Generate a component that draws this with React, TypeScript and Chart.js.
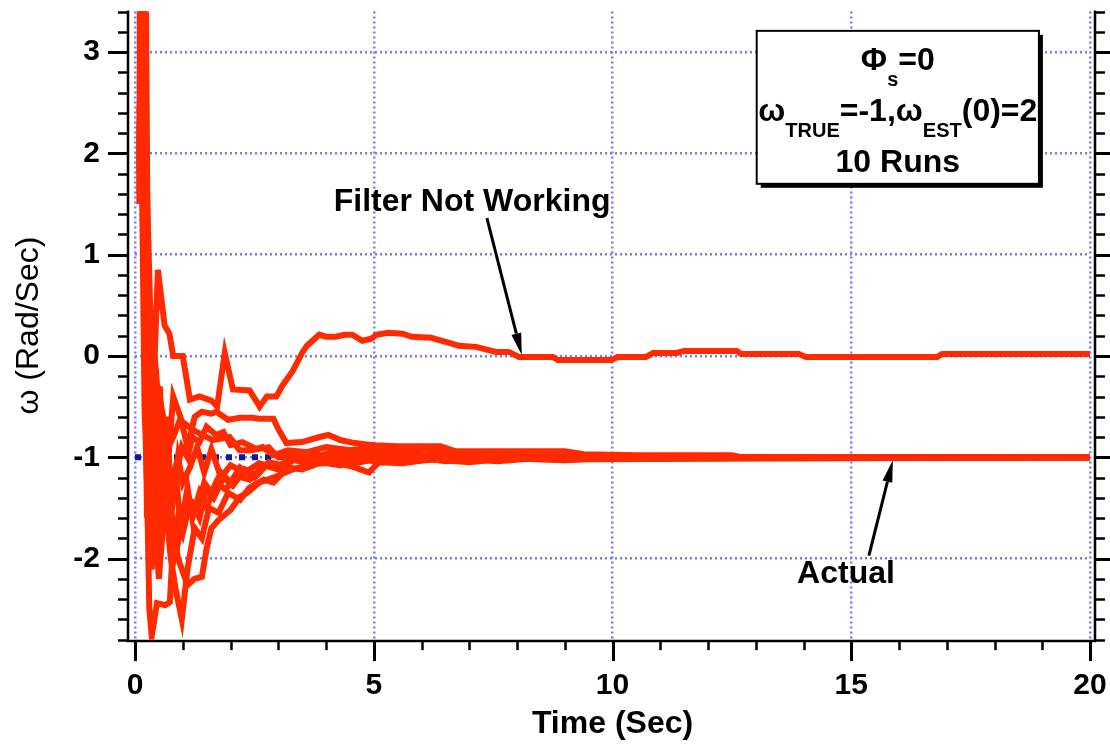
import React, { useEffect, useRef } from "react";
import { Chart, registerables } from "chart.js";

Chart.register(...registerables);

type Pt = [number, number];

// Axis ranges and labelled ticks
const T_MIN = 0;
const T_MAX = 20;
const W_MIN = -2.8;
const W_MAX = 3.4;
const X_TICKS = [0, 5, 10, 15, 20];
const Y_TICKS = [-2, -1, 0, 1, 2, 3];
const X_MINOR_STEP = 1;
const Y_MINOR_STEP = 0.2;

// True angular rate
const omegaTrue: Pt[] = [[0, -1], [20, -1]];

// Estimated angular rate, one array per run: [time (s), omega (rad/s)]
const run01: Pt[] = [
  [0.09, 1.5], [0.14, 3.6], [0.31, 0.6], [0.38, -0.4], [0.48, 0.85], [0.62, 0.3], [0.72, 0.22], [0.8, 0.0], [1.0, 0.0],
  [1.15, -0.43], [1.35, -0.4], [1.6, -0.44], [1.72, -0.5], [1.88, 0.03], [2.05, -0.33], [2.4, -0.34],
  [2.61, -0.5], [2.76, -0.4], [2.96, -0.4], [3.09, -0.29], [3.3, -0.15], [3.5, 0.03], [3.6, 0.1],
  [3.86, 0.21], [4.0, 0.19], [4.2, 0.19], [4.4, 0.21], [4.55, 0.21], [4.76, 0.15], [4.95, 0.17],
  [5.05, 0.21], [5.3, 0.23], [5.6, 0.22], [5.8, 0.19], [6.2, 0.18], [6.58, 0.13], [6.79, 0.1],
  [7.14, 0.09], [7.56, 0.04], [7.83, 0.04], [8.04, -0.01], [8.75, -0.01], [8.85, -0.04], [9.98, -0.04],
  [10.1, -0.01], [10.7, -0.01], [10.85, 0.03], [11.35, 0.03], [11.5, 0.05], [12.6, 0.05], [12.7, 0.02],
  [13.9, 0.02], [14.05, -0.01], [16.8, -0.01], [16.9, 0.02], [20, 0.02],
];
const run02: Pt[] = [
  [0.09, 1.9], [0.13, 3.6], [0.22, -0.5], [0.3, -2.5], [0.35, -2.77], [0.46, -2.44], [0.55, -2.45],
  [0.63, -2.46], [0.73, -2.43], [0.78, -2.0], [0.9, -1.6], [1.0, -1.75], [1.15, -1.45], [1.3, -1.5],
  [1.45, -1.25], [1.6, -1.35], [1.8, -1.15], [2.0, -1.25], [2.2, -1.1], [2.5, -1.2], [2.8, -1.05],
  [3.1, -1.1], [3.4, -1.0], [3.8, -1.05], [4.2, -0.98], [4.6, -1.02], [5.0, -0.97], [5.6, -1.03],
  [6.3, -1.0], [7.2, -1.02], [8.2, -0.99], [9.5, -1.01], [11, -1.0], [20, -1.0],
];
const run03: Pt[] = [
  [0.09, 1.6], [0.11, 3.6], [0.2, 0.5], [0.28, -1.5], [0.4, -0.3], [0.5, -0.9], [0.6, -1.3], [0.75, -2.0],
  [0.85, -2.3], [0.98, -2.6], [1.1, -2.1], [1.25, -1.7], [1.4, -1.8], [1.55, -1.5], [1.75, -1.55],
  [1.95, -1.35], [2.2, -1.42], [2.4, -1.3], [2.7, -1.22], [2.9, -1.25], [3.2, -1.1], [3.5, -1.12],
  [3.9, -1.05], [4.3, -1.08], [4.7, -1.02], [5.2, -1.05], [5.8, -0.99], [6.5, -1.04], [7.4, -1.0],
  [8.6, -1.02], [10, -1.0], [20, -1.0],
];
const run04: Pt[] = [
  [0.09, 2.0], [0.17, 3.6], [0.24, 0.2], [0.35, -2.11], [0.45, -1.2], [0.55, -0.5], [0.65, -0.75],
  [0.75, -1.5], [0.9, -2.0], [1.1, -2.26], [1.25, -2.2], [1.4, -2.18], [1.5, -1.9], [1.6, -1.7],
  [1.75, -1.62], [2.0, -1.52], [2.2, -1.39], [2.35, -1.35], [2.6, -1.25], [2.9, -1.2], [3.3, -1.12],
  [3.7, -1.07], [4.2, -1.05], [4.6, -1.1], [4.9, -1.15], [5.1, -1.05], [5.6, -1.06], [6.2, -1.02],
  [7.0, -1.05], [7.8, -1.01], [9, -1.03], [10.5, -1.0], [20, -1.0],
];
const run05: Pt[] = [
  [0.09, 2.2], [0.2, 3.6], [0.27, -1.0], [0.4, -2.0], [0.5, -1.4], [0.6, -0.7], [0.7, -1.0], [0.8, -0.4],
  [0.95, -0.6], [1.1, -0.9], [1.25, -0.6], [1.4, -0.55], [1.6, -0.57], [1.7, -0.55], [1.95, -0.63],
  [2.2, -0.61], [2.45, -0.61], [2.6, -0.62], [2.9, -0.62], [3.0, -0.72], [3.17, -0.86], [3.5, -0.85],
  [3.86, -0.8], [4.05, -0.78], [4.3, -0.83], [4.6, -0.86], [5.0, -0.88], [5.5, -0.89], [6.4, -0.89],
  [6.7, -0.94], [9.0, -0.94], [9.4, -0.97], [10.5, -0.98], [12.5, -0.98], [12.7, -1.0], [20, -1.0],
];
const run06: Pt[] = [
  [0.09, 1.8], [0.15, 3.6], [0.25, -1.6], [0.4, -0.7], [0.55, -1.5], [0.7, -0.9], [0.8, -0.8],
  [0.94, -0.63], [1.21, -0.73], [1.63, -0.83], [1.98, -0.8], [2.19, -0.93], [2.45, -0.93], [2.67, -0.9],
  [2.9, -0.98], [3.2, -0.93], [3.6, -0.95], [4.0, -0.9], [4.5, -0.93], [5.0, -0.9], [5.5, -0.95],
  [6.0, -0.92], [7.0, -0.96], [8.0, -0.95], [9.2, -0.98], [10.3, -0.99], [11, -1.0], [20, -1.0],
];
const run07: Pt[] = [
  [0.09, 2.4], [0.23, 3.6], [0.3, -1.8], [0.38, -1.0], [0.48, -1.9], [0.6, -1.2], [0.7, -1.45],
  [0.82, -2.0], [0.92, -1.8], [1.05, -1.5], [1.2, -1.45], [1.35, -1.6], [1.5, -1.3], [1.65, -1.4],
  [1.85, -1.2], [2.05, -1.28], [2.3, -1.12], [2.55, -1.18], [2.8, -1.05], [3.1, -1.08], [3.5, -0.95],
  [3.9, -0.98], [4.3, -0.92], [4.7, -0.96], [5.3, -0.94], [6.0, -0.98], [7.0, -0.97], [8.0, -1.0],
  [9.0, -0.97], [10, -1.0], [20, -1.0],
];
const run08: Pt[] = [
  [0.09, 1.7], [0.1, 3.6], [0.2, 1.0], [0.3, -0.2], [0.4, -1.5], [0.5, -2.2], [0.6, -1.6], [0.7, -1.1],
  [0.8, -1.4], [0.9, -1.0], [1.0, -1.25], [1.15, -1.1], [1.3, -0.9], [1.45, -1.15], [1.6, -0.92],
  [1.8, -1.2], [2.0, -1.08], [2.3, -1.15], [2.6, -1.06], [2.9, -1.1], [3.3, -1.02], [3.7, -1.08],
  [4.1, -1.0], [4.6, -1.06], [5.2, -1.0], [5.8, -1.04], [6.6, -1.01], [7.6, -1.04], [8.6, -1.0],
  [9.6, -1.02], [20, -1.0],
];
const run09: Pt[] = [
  [0.09, 2.1], [0.19, 3.6], [0.26, -0.8], [0.35, 0.3], [0.45, -0.2], [0.55, -1.0], [0.65, -0.6],
  [0.75, -1.3], [0.85, -1.1], [0.95, -1.7], [1.1, -1.3], [1.2, -1.6], [1.35, -1.35], [1.5, -1.5],
  [1.7, -1.25], [1.9, -1.32], [2.1, -1.18], [2.4, -1.22], [2.7, -1.08], [3.0, -1.12], [3.4, -1.0],
  [3.8, -1.04], [4.4, -0.97], [5.0, -1.03], [5.6, -0.98], [6.4, -1.03], [7.5, -0.99], [8.8, -1.02],
  [10, -1.0], [20, -1.0],
];
const run10: Pt[] = [
  [0.09, 3.5], [0.1, 3.6], [0.2, -0.5], [0.3, -1.9], [0.42, -1.0], [0.52, -0.3], [0.62, -1.2],
  [0.72, -1.7], [0.85, -1.2], [0.98, -0.9], [1.1, -1.0], [1.2, -0.8], [1.35, -0.85], [1.5, -0.7],
  [1.7, -0.78], [1.85, -0.75], [2.0, -0.88], [2.25, -0.85], [2.55, -0.92], [2.8, -0.9], [3.0, -1.0],
  [3.4, -0.97], [3.8, -1.02], [4.3, -0.95], [4.8, -1.0], [5.4, -0.97], [6.2, -1.01], [7.2, -0.98],
  [8.4, -1.0], [20, -1.0],
];

const RUNS = [run01, run02, run03, run04, run05, run06, run07, run08, run09, run10];

// Callouts, placed in data coordinates
const FILTER_LABEL = { text: "Filter Not Working", t: 7.06, w: 1.43 };
const FILTER_ARROW = { from: [7.37, 1.36] as Pt, to: [8.1, 0.01] as Pt };
const ACTUAL_LABEL = { text: "Actual", t: 14.89, w: -2.24 };
const ACTUAL_ARROW = { from: [15.37, -1.97] as Pt, to: [15.87, -1.03] as Pt };
const INFO_BOX = { t0: 13.02, t1: 18.93, w0: 3.21, w1: 1.7 };

const FONT = "'Liberation Sans', Arial, Helvetica, sans-serif";
const RED = "#ff2a00";
const NAVY = "#0d1c9c";
const GRID = "#7878ff";

type Seg = { text: string; sub?: boolean };

function drawRich(ctx: CanvasRenderingContext2D, cx: number, baseline: number, segs: Seg[]) {
  const main = `bold 32px ${FONT}`;
  const small = `bold 20px ${FONT}`;
  let total = 0;
  for (const s of segs) {
    ctx.font = s.sub ? small : main;
    total += ctx.measureText(s.text).width;
  }
  let x = cx - total / 2;
  ctx.textAlign = "left";
  ctx.textBaseline = "alphabetic";
  for (const s of segs) {
    ctx.font = s.sub ? small : main;
    ctx.fillText(s.text, x, s.sub ? baseline + 16 : baseline);
    x += ctx.measureText(s.text).width;
  }
}

function drawArrow(ctx: CanvasRenderingContext2D, x0: number, y0: number, x1: number, y1: number) {
  const ang = Math.atan2(y1 - y0, x1 - x0);
  const headLen = 22;
  const headHalf = 5;
  const bx = x1 - headLen * Math.cos(ang);
  const by = y1 - headLen * Math.sin(ang);
  ctx.strokeStyle = "#000";
  ctx.fillStyle = "#000";
  ctx.lineWidth = 3;
  ctx.beginPath();
  ctx.moveTo(x0, y0);
  ctx.lineTo(bx, by);
  ctx.stroke();
  ctx.beginPath();
  ctx.moveTo(x1, y1);
  ctx.lineTo(bx + headHalf * Math.sin(ang), by - headHalf * Math.cos(ang));
  ctx.lineTo(bx - headHalf * Math.sin(ang), by + headHalf * Math.cos(ang));
  ctx.closePath();
  ctx.fill();
}

const overlay = {
  id: "overlay",
  afterDraw(chart: any) {
    const { ctx, chartArea: ca, scales } = chart;
    const px = (t: number) => scales.x.getPixelForValue(t);
    const py = (w: number) => scales.y.getPixelForValue(w);
    ctx.save();

    // axis frame: left axis set off from the plot, right axis with outward ticks
    const leftX = ca.left - 7;
    const rightX = ca.right + 5;
    const baseY = ca.bottom + 1.5;
    ctx.strokeStyle = "#000";
    ctx.lineWidth = 2.5;
    ctx.beginPath();
    ctx.moveTo(leftX, ca.top - 1);
    ctx.lineTo(leftX, baseY);
    ctx.lineTo(rightX, baseY);
    ctx.lineTo(rightX, ca.top - 1);
    ctx.stroke();

    const nY = Math.round((W_MAX - W_MIN) / Y_MINOR_STEP);
    for (let i = 0; i <= nY; i++) {
      const v = W_MIN + i * Y_MINOR_STEP;
      const major = Y_TICKS.some((m) => Math.abs(m - v) < 1e-6);
      const y = Math.round(py(v)) + 0.5;
      ctx.lineWidth = major ? 3 : 2.5;
      ctx.beginPath();
      ctx.moveTo(leftX - (major ? 20 : 10), y);
      ctx.lineTo(leftX, y);
      ctx.moveTo(rightX, y);
      ctx.lineTo(rightX + (major ? 15 : 10), y);
      ctx.stroke();
    }
    const nX = Math.round((T_MAX - T_MIN) / X_MINOR_STEP);
    for (let i = 0; i <= nX; i++) {
      const t = T_MIN + i * X_MINOR_STEP;
      const major = X_TICKS.includes(t);
      const x = Math.round(px(t)) + 0.5;
      ctx.lineWidth = major ? 3 : 2.5;
      ctx.beginPath();
      ctx.moveTo(x, baseY);
      ctx.lineTo(x, baseY + (major ? 20 : 9));
      ctx.stroke();
    }

    // callout labels and arrows
    ctx.fillStyle = "#000";
    ctx.font = `bold 32px ${FONT}`;
    ctx.textAlign = "center";
    ctx.textBaseline = "alphabetic";
    ctx.fillText(FILTER_LABEL.text, px(FILTER_LABEL.t), py(FILTER_LABEL.w));
    ctx.fillText(ACTUAL_LABEL.text, px(ACTUAL_LABEL.t), py(ACTUAL_LABEL.w));
    drawArrow(ctx, px(FILTER_ARROW.from[0]), py(FILTER_ARROW.from[1]), px(FILTER_ARROW.to[0]), py(FILTER_ARROW.to[1]));
    drawArrow(ctx, px(ACTUAL_ARROW.from[0]), py(ACTUAL_ARROW.from[1]), px(ACTUAL_ARROW.to[0]), py(ACTUAL_ARROW.to[1]));

    // parameter box with drop shadow
    const bx0 = px(INFO_BOX.t0);
    const bx1 = px(INFO_BOX.t1);
    const by0 = py(INFO_BOX.w0);
    const by1 = py(INFO_BOX.w1);
    ctx.fillStyle = "#000";
    ctx.fillRect(bx0 + 4, by0 + 4, bx1 - bx0, by1 - by0);
    ctx.fillStyle = "#fff";
    ctx.fillRect(bx0, by0, bx1 - bx0, by1 - by0);
    ctx.strokeStyle = "#000";
    ctx.lineWidth = 2;
    ctx.strokeRect(bx0, by0, bx1 - bx0, by1 - by0);
    ctx.fillStyle = "#000";
    const cx = (bx0 + bx1) / 2;
    drawRich(ctx, cx, by0 + 39, [{ text: "Φ" }, { text: "s", sub: true }, { text: "=0" }]);
    drawRich(ctx, cx, by0 + 90, [
      { text: "ω" },
      { text: "TRUE", sub: true },
      { text: "=-1,ω" },
      { text: "EST", sub: true },
      { text: "(0)=2" },
    ]);
    drawRich(ctx, cx, by0 + 141, [{ text: "10 Runs" }]);

    ctx.restore();
  },
};

// Fixed scale boxes so the plot area sits where intended
const zeroPadding = (s: any) => {
  s.paddingTop = 0;
  s.paddingBottom = 0;
  s.paddingLeft = 0;
  s.paddingRight = 0;
};

export default function App() {
  const canvasRef = useRef<HTMLCanvasElement | null>(null);

  useEffect(() => {
    const canvas = canvasRef.current;
    if (!canvas) return;

    const runSets = RUNS.map((run, i) => ({
      label: `Run ${i + 1}`,
      data: run.map(([t, w]) => ({ x: t, y: w })),
      borderColor: RED,
      borderWidth: 6,
      pointRadius: 0,
      tension: 0,
      fill: false,
      clip: 0,
    }));

    const chart = new Chart(canvas, {
      type: "line",
      data: {
        datasets: [
          ...runSets,
          {
            label: "True",
            data: omegaTrue.map(([t, w]) => ({ x: t, y: w })),
            borderColor: NAVY,
            borderWidth: 6,
            borderDash: [6, 7],
            pointRadius: 0,
            fill: false,
            clip: 0,
          },
        ],
      },
      options: {
        responsive: false,
        animation: false,
        devicePixelRatio: 1,
        layout: { padding: { top: 11.6, right: 20, bottom: 0, left: 0 } },
        plugins: { legend: { display: false }, tooltip: { enabled: false } },
        scales: {
          x: {
            type: "linear",
            min: T_MIN,
            max: T_MAX,
            afterBuildTicks: (s: any) => {
              s.ticks = X_TICKS.map((v) => ({ value: v }));
            },
            afterFit: (s: any) => {
              s.height = 107.4;
              zeroPadding(s);
            },
            ticks: {
              callback: (v: any) => String(v),
              font: { family: FONT, size: 30, weight: "bold" },
              color: "#000",
              padding: 28,
              maxRotation: 0,
              autoSkip: false,
            },
            grid: { color: GRID, lineWidth: 2.5, drawTicks: false },
            border: { display: false, dash: [2, 3] },
            title: {
              display: true,
              text: "Time (Sec)",
              font: { family: FONT, size: 32, weight: "bold" },
              color: "#000",
              padding: { top: 0, bottom: 4 },
            },
          },
          y: {
            type: "linear",
            min: W_MIN,
            max: W_MAX,
            afterBuildTicks: (s: any) => {
              s.ticks = Y_TICKS.map((v) => ({ value: v }));
            },
            afterFit: (s: any) => {
              s.width = 135;
              zeroPadding(s);
            },
            ticks: {
              callback: (v: any) => String(v),
              font: { family: FONT, size: 30, weight: "bold" },
              color: "#000",
              padding: 35,
              autoSkip: false,
            },
            grid: { color: GRID, lineWidth: 2.5, drawTicks: false },
            border: { display: false, dash: [2, 3] },
            title: {
              display: true,
              text: "ω (Rad/Sec)",
              font: { family: FONT, size: 32, weight: "normal" },
              color: "#000",
              padding: { top: 10, bottom: 0 },
            },
          },
        },
      },
      plugins: [overlay],
    } as any);

    return () => chart.destroy();
  }, []);

  return (
    <div style={{ position: "fixed", left: 0, top: 0, width: 1110, height: 747, background: "#fff" }}>
      <canvas ref={canvasRef} width={1110} height={747} style={{ display: "block" }} />
    </div>
  );
}
